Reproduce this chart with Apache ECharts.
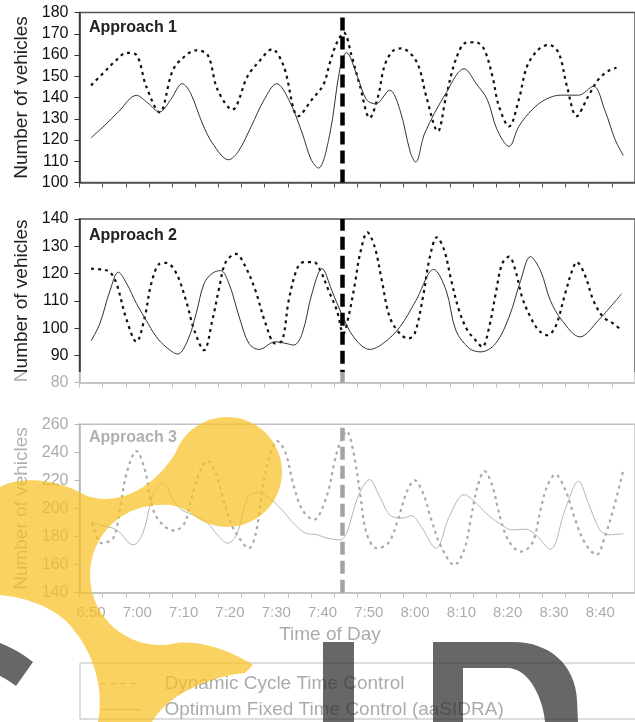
<!DOCTYPE html>
<html>
<head>
<meta charset="utf-8">
<script src="https://cdn.jsdelivr.net/npm/echarts@6/dist/echarts.min.js"></script>
<style>
  html, body { margin: 0; padding: 0; background: #fff; }
  #chart { width: 635px; height: 722px; }
</style>
</head>
<body>
<div id="chart"></div>
<script>
// x values are minutes after 6:50
var timeLabels = ['6:50','6:55','7:00','7:05','7:10','7:15','7:20','7:25','7:30','7:35','7:40','7:45',
                  '7:50','7:55','8:00','8:05','8:10','8:15','8:20','8:25','8:30','8:35','8:40','8:45'];
var panelTitles = ['Approach 1', 'Approach 2', 'Approach 3'];
var seriesNames = ['Dynamic Cycle Time Control', 'Optimum Fixed Time Control (aaSIDRA)'];
var changeTime = 54.3; // vertical dashed marker

var a1Dynamic = [[0,145.7],[3.4,153.2],[5.2,157.1],[7.7,161],[9.8,160],[11.9,145.3],[14.8,133],[17.7,153],[20.6,160],
  [22.7,162.2],[25.2,160],[27.3,143.8],[30.5,134.3],[33.8,150],[36.3,157],[39.1,162.7],[41.6,154.8],[44.8,131.2],
  [47.7,139],[50.2,146.1],[51.6,156.4],[53.1,165.8],[54.6,170.5],[56.3,159.5],[58.1,145.3],[60.2,130.4],[62,140.6],
  [63.4,155],[65.2,161.9],[67,163.1],[69.5,159.5],[71,153.2],[72.4,140.6],[74.9,124.1],[76.7,140.6],[78.8,157.9],
  [81,165.8],[83.1,166],[84.9,162.7],[86.7,150],[88.1,135.9],[90.3,126.4],[92.4,139],[94.2,154.8],[96.7,162.7],
  [98.9,164.7],[101,161],[102.8,145.3],[104.9,131.2],[107.4,140.6],[109.6,148.5],[111.7,152.4],[113.5,154]];
var a1Fixed = [[0,121],[3,127],[6,133.5],[9.8,141],[12.2,137.5],[14.8,133.2],[17.2,139],[19.7,146.5],[21.5,142],
  [24,128],[26.2,118.6],[29.7,110.7],[31.8,114.6],[34.6,126.4],[37.4,139],[40.1,146.5],[42.7,139],[45.6,123.3],
  [47.5,111],[49.1,106.8],[51.5,122],[53.8,154],[55.2,161.1],[57.5,150],[59.5,139],[61.5,137],[64.5,143.4],
  [66.7,134.3],[69,114],[70.1,109.6],[72.1,123.3],[76.7,142.2],[80.6,153.5],[83.2,146.5],[85.6,139],[87.7,124.9],
  [90.3,117],[92.4,126.4],[95.3,134.3],[98.1,139],[101.4,141.1],[105.3,141.1],[108.5,145.3],[111,133.9],
  [113.2,120.2],[115,112.6]];

var a2Dynamic = [[0,121.8],[2.7,121.4],[4.1,120.5],[5.5,116.3],[7.7,102.9],[9.8,95],[11.6,104.1],[13,116.3],
  [14.8,123.6],[16.2,123.9],[18.3,120.5],[20.5,110.2],[22.3,99.2],[24.4,91.9],[26.2,102.9],[27.7,115],[29.1,124.2],
  [31.3,127.2],[33.4,122.3],[35.5,113.8],[37.7,101.7],[39.8,94.4],[41.3,95.5],[42.7,110.2],[44.5,121.8],[45.9,124.2],
  [48.1,124.2],[49.5,121.2],[51.3,113.8],[53.1,106.5],[54.5,98],[55.6,104.1],[57,116.3],[58.1,127.2],[59.7,135.1],
  [61.3,129.6],[62.8,117.5],[64.5,104.1],[66.7,98],[68.5,96.2],[69.9,98],[71.7,111.4],[73.1,125.4],[74.7,133.3],
  [76.3,128.5],[77.8,117.5],[79.5,106.5],[81.3,99.2],[83.1,95.5],[84.5,93.1],[86,100.4],[87.4,112.6],[88.8,123.6],
  [90.3,126.2],[91.7,121],[93.1,111.4],[94.9,104.1],[96.7,99.2],[98.5,97.4],[100.3,100.4],[102.4,112.6],[103.9,121],
  [104.9,124.2],[106.7,119.3],[108.5,110.2],[110.6,104.1],[112.8,101.7],[114.6,99.2]];
var a2Fixed = [[0,95.3],[1.9,101.7],[4.1,113.8],[5.9,120.5],[7.7,116.3],[9.8,109],[11.9,102.9],[14.1,96.8],
  [16.2,93.1],[18.7,90.5],[20.9,95.6],[22.7,105.3],[24.4,116.3],[26.2,120.1],[28,121.1],[29.8,116.3],[32,104.1],
  [34.1,94.4],[36.3,92.2],[39.8,95],[41.8,94.5],[43.8,93.8],[45.6,98],[47.7,112.6],[49.9,121.8],[52,113.8],
  [54.1,105.3],[56.7,96.8],[60.2,92.2],[63.1,94.4],[66.7,100.4],[70.2,110.2],[74,121.5],[76.7,113.8],[78.8,99.2],
  [81.7,92.6],[84.2,91.3],[87.4,94.4],[90.3,104.1],[92.8,117.5],[94.9,126.2],[97.1,121],[99.2,110.2],[101.7,102.9],
  [105.6,96.8],[109.6,102.9],[114.6,112.6]];

var a3Dynamic = [[0.2,189.6],[2.3,175.3],[4.8,178.9],[6.2,199.2],[7.7,225.4],[9.8,240.9],[11.6,227.8],[13.4,199.2],
  [15.5,188.4],[18,184.3],[20.2,189.6],[21.6,206.3],[23.4,225.4],[25.2,233.8],[27,224.2],[28.4,208.7],[30.2,189.6],
  [32,178.9],[34.1,171.7],[35.6,182.5],[37,213.5],[38.4,234.9],[40.2,248.1],[42,239.7],[43.8,215.8],[45.6,199.2],
  [48.1,192],[50.9,208.7],[52.7,234.9],[53.8,246.9],[55.2,255.2],[56.7,239.7],[58.1,211.1],[59.5,182.5],[61.7,171.7],
  [64.2,175.3],[66.3,192],[68.1,211.1],[69.9,220.1],[71.7,211.1],[73.5,192],[75.6,172.9],[78.5,159.8],[80.6,170.5],
  [82,192],[83.5,215.8],[85,226.6],[86.7,215.8],[88.5,192],[90.3,176.5],[92.8,169.3],[95.3,175.3],[97.1,199.2],
  [98.5,215.8],[100.3,224.2],[102.4,213.5],[104.6,192],[106.7,175.3],[109.2,167],[111,180.1],[112.8,199.2],[115,227.8]];
var a3Fixed = [[0,190.8],[1.9,188.4],[5.5,184.8],[9.1,174.1],[11.2,182.5],[13.4,209.9],[15.5,218.3],[17.7,206.3],
  [19.5,199.2],[22.7,194.4],[25.2,189.6],[27.3,181.3],[29.5,175.3],[31.6,182.5],[33.8,207.5],[35.9,211.5],[38.4,207.5],
  [40.9,200.3],[43.4,190.8],[46.3,182.5],[48.8,181.3],[50.9,178.9],[53.8,177.7],[55.2,182.5],[57.7,208.7],[60.2,220.6],
  [62.3,208.7],[64.9,194.4],[67.4,193.2],[69.2,194.9],[71.3,187.2],[74.5,171.7],[77.4,194.4],[80.6,209.9],[82.8,205.1],
  [85.3,196.8],[88.1,189.6],[91,184.8],[93.9,185.3],[96,181.3],[99.2,171],[102.4,199.2],[105.3,219.4],[107.4,203.9],
  [109.9,184.8],[111.7,181.3],[115,182]];

var yRanges = [[100, 180, 10], [80, 140, 10], [140, 260, 20]];
var dynamicData = [a1Dynamic, a2Dynamic, a3Dynamic];
var fixedData = [a1Fixed, a2Fixed, a3Fixed];

var FONT = '"Liberation Sans", Arial, sans-serif';
var gridBoxes = [[12.5, 170], [219, 163.7], [424.3, 168.4]];

// helpers for the watermark outline (decoration only)
function cubic(pts, p0, p1, p2, p3) {
  for (var k = 1; k <= 16; k++) {
    var t = k / 16, u = 1 - t;
    pts.push([u*u*u*p0[0] + 3*u*u*t*p1[0] + 3*u*t*t*p2[0] + t*t*t*p3[0],
              u*u*u*p0[1] + 3*u*u*t*p1[1] + 3*u*t*t*p2[1] + t*t*t*p3[1]]);
  }
}
function quad(pts, p0, p1, p2) {
  for (var k = 1; k <= 10; k++) {
    var t = k / 10, u = 1 - t;
    pts.push([u*u*p0[0] + 2*u*t*p1[0] + t*t*p2[0], u*u*p0[1] + 2*u*t*p1[1] + t*t*p2[1]]);
  }
}
function arc(pts, cx, cy, r, a0, a1) {
  var n = 40;
  for (var k = 1; k <= n; k++) {
    var a = (a0 + (a1 - a0) * k / n) * Math.PI / 180;
    pts.push([cx + r * Math.cos(a), cy + r * Math.sin(a)]);
  }
}
var logoYellow = [[0, 487]];
cubic(logoYellow, [0, 487], [20, 476], [55, 478], [85, 495]);
cubic(logoYellow, [85, 495], [110, 506], [150, 495], [176, 452]);
arc(logoYellow, 227, 472, 55, 201.4, 492);
quad(logoYellow, [190, 513], [175, 503], [160, 505]);
arc(logoYellow, 160, 575, 70, -90, -282.4);
cubic(logoYellow, [175, 643], [200, 640], [230, 650], [253, 665]);
logoYellow.push([245, 673]);
cubic(logoYellow, [245, 673], [220, 675], [170, 690], [152, 722]);
logoYellow.push([98, 722]);
cubic(logoYellow, [98, 722], [104, 690], [95, 650], [65, 620]);
cubic(logoYellow, [65, 620], [45, 603], [20, 597], [0, 595]);

var logoArc = [[0, 643]];
quad(logoArc, [0, 643], [18, 650], [33, 662]);
logoArc.push([16, 686]);
quad(logoArc, [16, 686], [8, 680], [0, 676]);

var logoP = [[433, 642], [513, 642]];
cubic(logoP, [513, 642], [550, 642], [575, 665], [577, 700]);
logoP.push([578, 722], [545, 722]);
cubic(logoP, [545, 722], [543, 700], [530, 668], [507, 668]);
logoP.push([463, 668], [463, 722], [433, 722]);

var grids = [], xAxes = [], yAxes = [], titles = [], series = [];
for (var i = 0; i < 3; i++) {
  grids.push({left: 79.5, top: gridBoxes[i][0], width: 560, height: gridBoxes[i][1],
    show: true, borderColor: '#555', borderWidth: 1.5});
  // category axis only for ticks and labels
  xAxes.push({type: 'category', gridIndex: i, data: timeLabels, boundaryGap: true,
    axisLine: {show: true, onZero: false, lineStyle: {color: '#555', width: 1.5}},
    axisTick: {show: true, interval: 0, length: 5, lineStyle: {color: '#555'}},
    axisLabel: {show: i === 2, interval: 1, margin: 13, fontSize: 15,
      fontFamily: '"Liberation Sans Narrow", "Liberation Sans", sans-serif', color: '#111'}});
  // value axis the lines are drawn on
  xAxes.push({type: 'value', gridIndex: i, min: -2.5, max: 117.5, show: false});
  yAxes.push({type: 'value', gridIndex: i, min: yRanges[i][0], max: yRanges[i][1], interval: yRanges[i][2],
    name: 'Number of vehicles', nameLocation: 'middle', nameGap: 47,
    nameTextStyle: {fontSize: 19, fontFamily: FONT, color: '#222'},
    axisLine: {show: true, onZero: false, lineStyle: {color: '#333', width: 1.5}},
    axisTick: {show: true, length: 5, lineStyle: {color: '#333'}},
    splitLine: {show: false},
    axisLabel: {fontSize: 16, fontFamily: FONT, color: '#111', margin: 11}});
  titles.push({text: panelTitles[i], left: 89, top: [19.5, 228, 429.5][i], padding: 0,
    textStyle: {fontSize: 16, fontWeight: 'bold', fontFamily: FONT, color: '#222'}});
  series.push({name: seriesNames[0], type: 'line', xAxisIndex: i * 2 + 1, yAxisIndex: i,
    data: dynamicData[i], smooth: 0.35, showSymbol: false, symbol: 'none',
    lineStyle: {type: [3, 4], width: 2.2, color: '#111'}, itemStyle: {color: '#111'},
    markLine: {silent: true, symbol: ['none', 'none'], label: {show: false},
      lineStyle: {type: [13, 6], width: 4.5, color: '#000'},
      data: [{xAxis: changeTime}]}});
  series.push({name: seriesNames[1], type: 'line', xAxisIndex: i * 2 + 1, yAxisIndex: i,
    data: fixedData[i], smooth: 0.35, showSymbol: false, symbol: 'none',
    lineStyle: {width: 1, color: '#333'}, itemStyle: {color: '#333'}});
}

var chart = echarts.init(document.getElementById('chart'));
chart.setOption({
  animation: false,
  backgroundColor: '#fff',
  title: titles,
  grid: grids,
  xAxis: xAxes,
  yAxis: yAxes,
  legend: {
    data: [
      {name: seriesNames[0], lineStyle: {type: [5, 5], width: 1}},
      {name: seriesNames[1], lineStyle: {width: 1}}
    ],
    orient: 'vertical', left: 100, top: 674, padding: 0,
    itemWidth: 40, itemHeight: 14, itemGap: 7,
    itemStyle: {opacity: 0},
    textStyle: {fontSize: 19, fontFamily: FONT, color: '#111', padding: [0, 0, 0, 19]}
  },
  graphic: [
    {type: 'text', x: 330, y: 635, z: 10,
      style: {text: 'Time of Day', font: '19px ' + FONT, fill: '#111', textAlign: 'center', textVerticalAlign: 'middle'}},
    {type: 'rect', z: 10, shape: {x: 80, y: 663, width: 570, height: 56},
      style: {fill: 'none', stroke: '#444', lineWidth: 1}},
    // faded lower part
    {type: 'rect', z: 100, silent: true, shape: {x: 0, y: 372, width: 635, height: 350},
      style: {fill: 'rgba(255,255,255,0.64)'}},
    // watermark logo
    {type: 'polygon', z: 110, silent: true, shape: {points: logoYellow},
      style: {fill: 'rgba(247,193,38,0.72)'}},
    {type: 'polygon', z: 110, silent: true, shape: {points: logoArc},
      style: {fill: 'rgba(45,45,45,0.72)'}},
    {type: 'rect', z: 110, silent: true, shape: {x: 323, y: 642, width: 31, height: 80},
      style: {fill: 'rgba(45,45,45,0.72)'}},
    {type: 'polygon', z: 110, silent: true, shape: {points: logoP},
      style: {fill: 'rgba(45,45,45,0.72)'}}
  ],
  series: series
});
</script>
</body>
</html>
